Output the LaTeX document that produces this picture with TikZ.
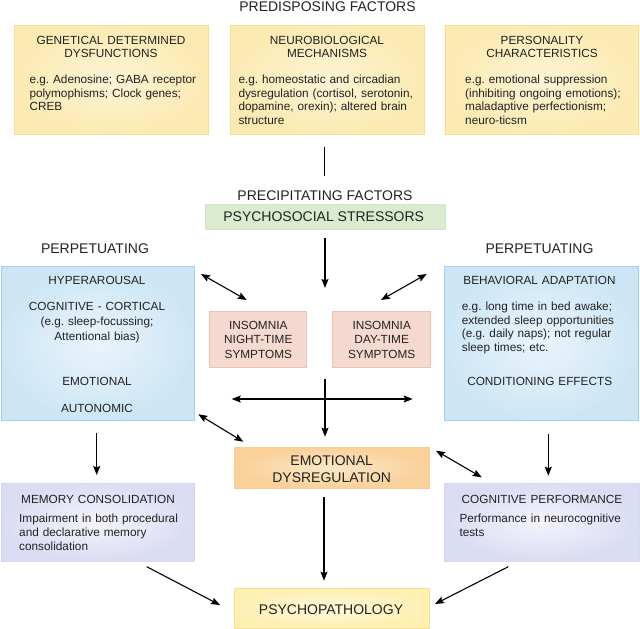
\documentclass[tikz,border=0pt]{standalone}
\usepackage{fontspec}
\setmainfont{Liberation Sans}
\frenchspacing
\usetikzlibrary{arrows.meta}
\definecolor{txt}{HTML}{222222}
\definecolor{yelF}{HTML}{FCEAB2}\definecolor{yelI}{HTML}{FDF4D6}\definecolor{yelD}{HTML}{F7DE92}
\definecolor{bluF}{HTML}{CDE6F6}\definecolor{bluI}{HTML}{EAF4FB}\definecolor{bluD}{HTML}{A6D1EE}
\definecolor{pnkF}{HTML}{F5D8CE}\definecolor{pnkD}{HTML}{EDC2B5}
\definecolor{grnF}{HTML}{DAEBD0}\definecolor{grnD}{HTML}{D0E6C4}
\definecolor{orgF}{HTML}{F9D199}\definecolor{orgI}{HTML}{FCE7C6}\definecolor{orgD}{HTML}{F8CD8E}
\definecolor{purF}{HTML}{DADCF3}\definecolor{purI}{HTML}{F4F4FC}\definecolor{purD}{HTML}{D5D8F0}
\definecolor{psyF}{HTML}{FEEFB2}\definecolor{psyI}{HTML}{FFF8DA}\definecolor{psyD}{HTML}{F7DF8D}
\tikzset{
  box/.style={rectangle, inner sep=0pt, line width=0.8pt},
  yelbox/.style={box, draw=yelD, inner color=yelI, outer color=yelF},
  blubox/.style={box, draw=bluD, inner color=bluI, outer color=bluF},
  pnkbox/.style={box, draw=pnkD, fill=pnkF},
  grnbox/.style={box, draw=grnD, fill=grnF},
  orgbox/.style={box, draw=orgD, inner color=orgI, outer color=orgF},
  purbox/.style={box, draw=purD, inner color=purI, outer color=purF},
  psybox/.style={box, draw=psyD, inner color=psyI, outer color=psyF},
  sm/.style={font=\fontsize{11.8}{13.8}\selectfont, text=txt, inner sep=0pt},
  bg/.style={font=\fontsize{14}{16.7}\selectfont, text=txt, inner sep=0pt},
  ctr/.style={anchor=base, text width=196pt, align=center},
  lft/.style={anchor=base west, text width=200pt, align=left},
  conn/.style={line width=1.1pt, black},
  >={Stealth[length=9pt,width=7pt,inset=1.5pt]}
}
\begin{document}
\begin{tikzpicture}[x=1pt,y=-1pt]
\useasboundingbox (0,0) rectangle (640,629);
% boxes
\node[yelbox, minimum width=194pt, minimum height=109pt] (g1) at (111,79.5) {};
\node[yelbox, minimum width=194pt, minimum height=109pt] (g2) at (327,79.5) {};
\node[yelbox, minimum width=193pt, minimum height=109pt] (g3) at (542,79.5) {};
\node[grnbox, minimum width=240pt, minimum height=25pt] (stress) at (325,216.8) {};
\node[blubox, minimum width=193pt, minimum height=154pt] (bl) at (97.5,343) {};
\node[blubox, minimum width=194pt, minimum height=154pt] (br) at (541,343) {};
\node[pnkbox, minimum width=97.7pt, minimum height=56pt] (night) at (257.9,339.7) {};
\node[pnkbox, minimum width=97.7pt, minimum height=56pt] (day) at (381.2,339.7) {};
\node[orgbox, minimum width=194.7pt, minimum height=41pt] (emo) at (331.7,467.8) {};
\node[purbox, minimum width=193pt, minimum height=78pt] (mem) at (97.5,522) {};
\node[purbox, minimum width=195pt, minimum height=78pt] (cog) at (541.5,522) {};
\node[psybox, minimum width=195pt, minimum height=40pt] (psy) at (331.5,608) {};
% labels
\node[bg, anchor=base] (predis) at (327.5,12) {PREDISPOSING FACTORS};
\node[bg, anchor=base] (precip) at (325,200) {PRECIPITATING FACTORS};
\node[bg, anchor=base] (stresst) at (323.7,221.7) {PSYCHOSOCIAL STRESSORS};
\node[bg, anchor=base] (perpL) at (95,253.3) {PERPETUATING};
\node[bg, anchor=base] (perpR) at (539.5,253.3) {PERPETUATING};
% top boxes text
\node[sm, ctr] (g1t) at (111,44.2) {GENETICAL DETERMINED\\DYSFUNCTIONS};
\node[sm, lft] (g1b) at (29.3,83.2) {e.g. Adenosine; GABA receptor\\polymophisms; Clock genes;\\CREB};
\node[sm, ctr] (g2t) at (327,44.2) {NEUROBIOLOGICAL\\MECHANISMS};
\node[sm, lft] (g2b) at (238.3,83.2) {e.g. homeostatic and circadian\\dysregulation (cortisol, serotonin,\\dopamine, orexin); altered brain\\structure};
\node[sm, ctr] (g3t) at (542,44.2) {PERSONALITY\\CHARACTERISTICS};
\node[sm, lft] (g3b) at (465,83.2) {e.g. emotional suppression\\(inhibiting ongoing emotions);\\maladaptive perfectionism;\\neuro-ticsm};
% left blue
\node[sm, ctr] (blt) at (97,284.7) {HYPERAROUSAL};
\node[sm, ctr, font=\fontsize{11.8}{15.2}\selectfont] (blc) at (97,310.4) {COGNITIVE - CORTICAL\\(e.g. sleep-focussing;\\Attentional bias)};
\node[sm, ctr] (ble) at (97,385.4) {EMOTIONAL};
\node[sm, ctr] (bla) at (97,412.9) {AUTONOMIC};
% right blue
\node[sm, ctr] (brt) at (539.5,284.2) {BEHAVIORAL ADAPTATION};
\node[sm, lft, font=\fontsize{11.8}{13.4}\selectfont] (brb) at (461.7,310.9) {e.g. long time in bed awake;\\extended sleep opportunities\\(e.g. daily naps); not regular\\sleep times; etc.};
\node[sm, ctr] (brc) at (539.7,385.9) {CONDITIONING EFFECTS};
% pink
\node[sm, ctr, font=\fontsize{11.8}{14.3}\selectfont] (nightt) at (258.3,329.5) {INSOMNIA\\NIGHT-TIME\\SYMPTOMS};
\node[sm, ctr, font=\fontsize{11.8}{14.3}\selectfont] (dayt) at (381.7,329.5) {INSOMNIA\\DAY-TIME\\SYMPTOMS};
% emotional, psycho
\node[bg, ctr] (emot) at (331.7,465.3) {EMOTIONAL\\DYSREGULATION};
\node[bg, ctr] (psyt) at (331,614) {PSYCHOPATHOLOGY};
% memory, cognitive
\node[sm, ctr] (memt) at (98,503.2) {MEMORY CONSOLIDATION};
\node[sm, lft, font=\fontsize{11.8}{14}\selectfont] (memb) at (19,522.9) {Impairment in both procedural\\and declarative memory\\consolidation};
\node[sm, ctr] (cogt) at (542,503.2) {COGNITIVE PERFORMANCE};
\node[sm, lft, font=\fontsize{11.8}{14}\selectfont] (cogb) at (459.3,522.9) {Performance in neurocognitive\\tests};
% connector endpoints
\coordinate (t1) at (324.3,146.7); \coordinate (t2) at (324.3,175.7);
\coordinate (s1) at (325,238); \coordinate (s2) at (325,288);
\coordinate (la) at (201,274); \coordinate (lb) at (246.7,300);
\coordinate (ra) at (426.7,274); \coordinate (rb) at (381,300);
\coordinate (ha) at (231.7,399); \coordinate (hb) at (412.7,399);
\coordinate (va) at (325,379); \coordinate (vb) at (325,436.7);
\coordinate (lla) at (198.3,414.3); \coordinate (llb) at (243.3,441.7);
\coordinate (rla) at (436,450.7); \coordinate (rlb) at (481.7,477.3);
\coordinate (dla) at (96.7,433.3); \coordinate (dlb) at (96.7,475);
\coordinate (dra) at (548.3,434.3); \coordinate (drb) at (548.3,475.7);
\coordinate (ea) at (324,496.7); \coordinate (eb) at (324,580.7);
\coordinate (ma) at (146.7,566.7); \coordinate (mb) at (220,605);
\coordinate (ca) at (508.3,566.7); \coordinate (cb) at (435,604);
% connectors
\draw[conn] (t1) -- (t2);
\draw[conn,->] (s1) -- (s2);
\draw[conn,<->] (la) -- (lb);
\draw[conn,<->] (ra) -- (rb);
\draw[conn,<->] (ha) -- (hb);
\draw[conn,->] (va) -- (vb);
\draw[conn,<->] (lla) -- (llb);
\draw[conn,<->] (rla) -- (rlb);
\draw[conn,->] (dla) -- (dlb);
\draw[conn,->] (dra) -- (drb);
\draw[conn,->] (ea) -- (eb);
\draw[conn,->] (ma) -- (mb);
\draw[conn,->] (ca) -- (cb);
\end{tikzpicture}
\end{document}
